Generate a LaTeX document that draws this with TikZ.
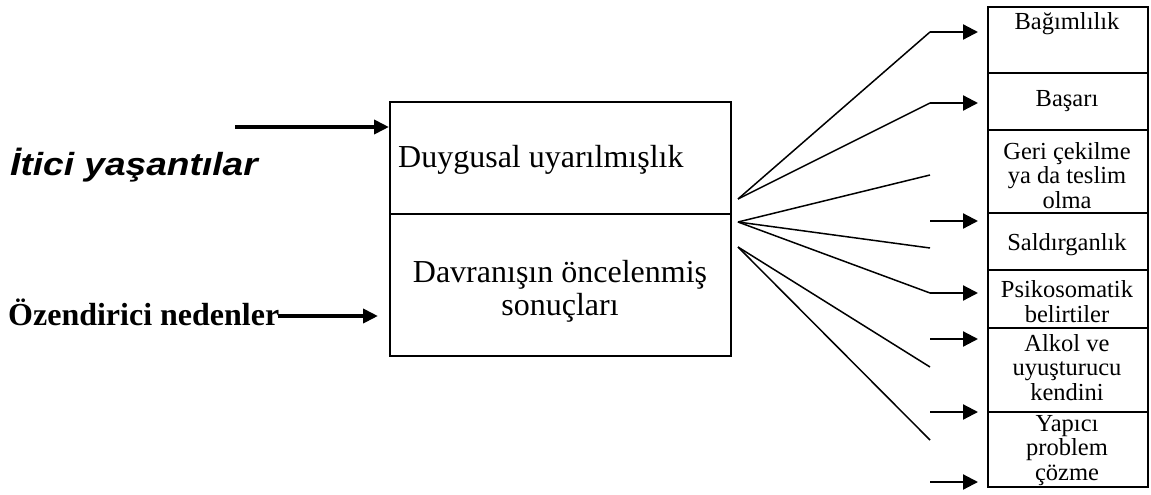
\documentclass[tikz,border=0pt]{standalone}
\usepackage{fontspec}
\setmainfont{Liberation Serif}
\setsansfont{Liberation Sans}
\usetikzlibrary{arrows.meta}
\begin{document}
\begin{tikzpicture}[x=1pt,y=-1pt,
  cell/.style={draw, line width=2pt, anchor=north west, minimum width=160pt, inner sep=0pt},
  fan/.style={line width=1.5pt},
  rarrow/.style={line width=2.2pt, -{Triangle[length=15pt,width=15pt]}},
  larrow/.style={line width=4pt, -{Triangle[length=15pt,width=14pt]}},
  small/.style={font=\fontsize{24.5}{24.5}\selectfont, align=center, inner sep=0pt, anchor=base},
  big/.style={font=\fontsize{32}{33}\selectfont, inner sep=0pt, anchor=base},
]
\useasboundingbox (0,0) rectangle (1151,495);

% central box
\node[cell, minimum width=341pt, minimum height=112pt] (ctop) at (389,101) {};
\node[cell, minimum width=341pt, minimum height=142pt] (cbot) at (389,213) {};
\node[big, anchor=base west] (duy) at (398,167) {Duygusal uyarılmışlık};
\node[big, align=center] (dav) at (560,315) {Davranışın öncelenmiş\\sonuçları};

% right cells
\node[cell, minimum height=66pt] (r1) at (987,6) {};
\node[cell, minimum height=57pt] (r2) at (987,72) {};
\node[cell, minimum height=83pt] (r3) at (987,129) {};
\node[cell, minimum height=57pt] (r4) at (987,212) {};
\node[cell, minimum height=58pt] (r5) at (987,269) {};
\node[cell, minimum height=84pt] (r6) at (987,327) {};
\node[cell, minimum height=75pt] (r7) at (987,411) {};

% labels (anchor base = baseline of last line)
\node[small] (t1) at (1067,30) {Bağımlılık};
\node[small] (t2) at (1067,106) {Başarı};
\node[small] (t3) at (1067,208) {Geri çekilme\\ya da teslim\\olma};
\node[small] (t4) at (1067,250) {Saldırganlık};
\node[small] (t5) at (1067,322) {Psikosomatik\\belirtiler};
\node[small] (t6) at (1067,400) {Alkol ve\\uyuşturucu\\kendini};
\node[small] (t7) at (1067,480) {Yapıcı\\problem\\çözme};

% left texts
\node[font=\sffamily\bfseries\itshape\fontsize{32}{34}\selectfont, anchor=base west, inner sep=0pt] (iti) at (10,175) {\scalebox{1.16}[1]{İtici yaşantılar}};
\node[font=\bfseries\fontsize{32}{34}\selectfont, anchor=base west, inner sep=0pt] (oze) at (8,325) {Özendirici nedenler};

\coordinate (itis) at (235,127);
\coordinate (ozes) at (278,316);
\coordinate (ozee) at (378,316);
\draw[larrow] (itis) -- (ctop.west |- itis);
\draw[larrow] (ozes) -- (ozee);

% fan origins
\coordinate (o1) at (738,199);
\coordinate (o2) at (738,222);
\coordinate (o3) at (738,247);
% fan ends / arrow starts
\coordinate (a1) at (930,32);
\coordinate (a2) at (930,103);
\coordinate (e3) at (930,175);
\coordinate (a4) at (930,221);
\coordinate (e4) at (930,248);
\coordinate (a5) at (930,293);
\coordinate (a6) at (930,339);
\coordinate (e6) at (930,367);
\coordinate (a7) at (930,412);
\coordinate (e7) at (930,440);
\coordinate (a8) at (930,482);

\draw[fan] (o1) -- (a1);
\draw[fan] (o1) -- (a2);
\draw[fan] (o2) -- (e3);
\draw[fan] (o2) -- (e4);
\draw[fan] (o2) -- (a5);
\draw[fan] (o3) -- (e6);
\draw[fan] (o3) -- (e7);

\foreach \a/\c in {a1/r1, a2/r2, a4/r4, a5/r5, a6/r6, a7/r7, a8/r7}
  \draw[rarrow] (\a) -- ([xshift=-9pt]\c.west |- \a);
\end{tikzpicture}
\end{document}
